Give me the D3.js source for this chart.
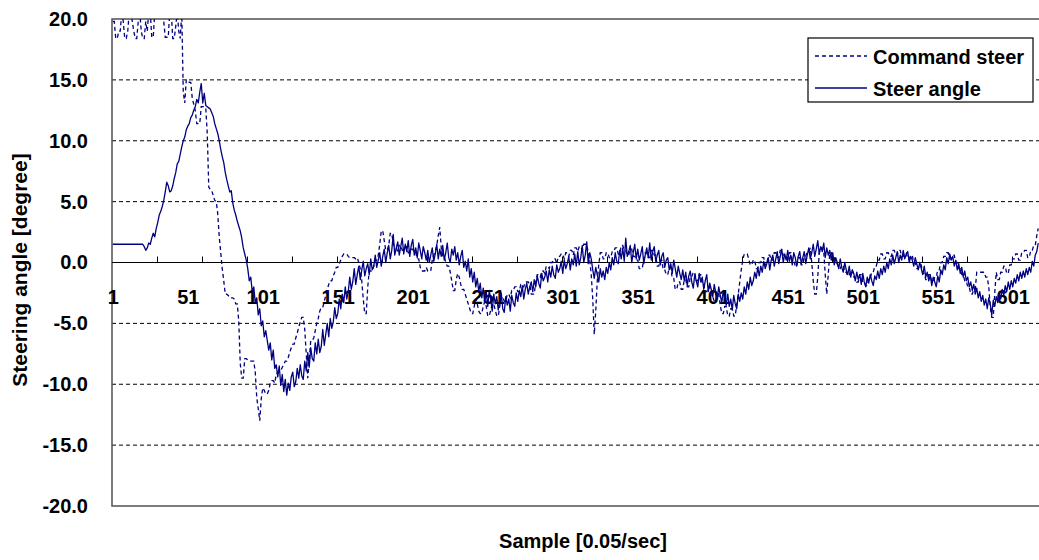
<!DOCTYPE html>
<html>
<head>
<meta charset="utf-8">
<script src="https://cdn.jsdelivr.net/npm/d3@7"></script>
<style>
  html, body { margin: 0; padding: 0; background: #ffffff; }
  svg { display: block; }
  text { font-family: "Liberation Sans", Arial, sans-serif; font-weight: bold; fill: #000; }
</style>
</head>
<body>
<svg id="chart" width="1039" height="560"></svg>
<script>
// Commanded steering angle [degree], one value per sample (0.05 s)
const commandSteer = [
  19.8,19.8,18.4,18.4,19.0,19.0,20.6,19.8,18.4,18.4,
  19.0,20.6,20.6,19.8,19.0,18.4,18.4,19.8,20.6,19.0,
  18.4,18.4,19.8,19.0,20.6,20.6,18.5,18.5,20.6,20.6,
  20.6,20.6,20.6,20.6,19.8,18.5,18.5,18.5,20.6,20.6,
  18.4,18.4,19.4,20.6,19.0,18.4,20.6,14.0,13.1,15.0,
  15.0,14.8,14.8,13.5,13.0,12.5,11.4,11.4,11.4,12.8,
  12.8,12.8,12.7,10.6,6.2,6.0,5.9,5.5,5.1,5.0,
  4.0,2.1,0.8,-0.5,-1.5,-2.6,-2.6,-2.7,-2.9,-2.9,
  -2.9,-3.0,-3.4,-3.4,-4.8,-8.3,-9.5,-9.5,-7.9,-7.9,
  -8.0,-8.1,-8.1,-8.1,-8.1,-9.0,-11.1,-12.0,-13.0,-11.2,
  -10.3,-10.5,-10.8,-10.8,-10.5,-9.9,-9.7,-9.7,-9.9,-9.2,
  -9.0,-8.9,-8.9,-8.6,-8.4,-8.1,-8.1,-7.8,-7.4,-7.0,
  -6.7,-6.7,-6.2,-5.8,-5.3,-4.9,-4.5,-4.5,-5.5,-7.5,
  -9.5,-8.0,-6.4,-6.4,-6.2,-5.6,-5.0,-4.6,-4.0,-3.7,
  -3.7,-3.2,-2.7,-2.2,-1.8,-1.5,-1.5,-1.1,-0.8,-0.4,
  -0.4,-0.1,0.2,0.5,0.7,0.7,0.7,0.5,0.4,0.4,
  0.4,0.4,0.3,0.4,0.0,-0.5,-1.5,-3.0,-4.2,-4.2,
  -2.0,-0.7,-0.7,-0.7,-0.3,0.2,0.2,0.6,1.5,2.6,
  2.6,1.8,1.0,1.0,1.4,2.4,2.4,1.6,1.2,1.2,
  0.9,1.4,1.4,1.0,1.0,1.3,1.3,0.8,0.8,1.1,
  1.1,0.8,0.8,0.3,0.3,-0.4,-0.7,-0.7,-0.7,-0.4,
  -0.7,-0.7,-0.7,0.2,0.6,0.9,1.4,2.2,2.9,1.2,
  0.5,0.5,0.0,-0.3,-0.3,-0.8,-1.5,-2.3,-2.3,-1.4,
  -0.9,-1.2,-1.8,-2.2,-2.2,-2.6,-3.0,-3.4,-3.8,-4.2,
  -4.2,-3.6,-3.0,-3.4,-4.0,-4.2,-4.2,-3.6,-3.2,-3.6,
  -4.4,-4.4,-3.9,-3.4,-3.4,-3.9,-4.4,-4.4,-3.6,-3.0,
  -2.8,-3.2,-3.2,-2.6,-2.6,-2.9,-2.3,-2.3,-2.0,-2.0,
  -2.4,-2.4,-1.8,-1.8,-2.0,-1.6,-1.6,-1.6,-1.8,-2.6,
  -2.6,-2.6,-1.6,-1.0,-1.0,-1.2,-0.7,-0.7,-0.9,-0.3,
  -0.3,-0.5,0.0,0.0,0.3,0.3,-0.1,0.5,0.5,0.7,
  0.7,0.3,0.8,0.8,0.5,1.0,1.0,0.6,1.2,1.2,
  0.9,1.3,1.3,1.0,1.5,1.5,1.5,0.8,0.2,-1.0,
  -3.0,-5.9,-4.0,-1.5,-0.2,0.8,0.8,0.3,0.3,0.8,
  0.8,0.4,0.4,0.9,0.9,1.2,1.2,0.7,0.7,1.4,
  1.4,1.0,1.0,0.6,0.6,1.1,1.1,0.5,0.5,0.2,
  0.2,-0.5,-0.5,-0.5,0.3,0.8,0.8,0.4,0.4,1.0,
  1.0,0.6,0.6,-0.3,-0.3,0.2,0.2,-0.6,-0.6,-1.0,
  -1.0,-0.4,-0.4,-1.3,-1.3,-2.2,-2.2,-1.6,-1.6,-2.2,
  -2.2,-1.4,-1.4,-2.0,-2.0,-1.2,-1.2,-0.8,-0.8,-1.5,
  -1.5,-1.0,-1.0,-1.8,-1.8,-2.4,-2.4,-2.0,-2.0,-2.8,
  -2.8,-3.2,-3.2,-2.6,-2.6,-3.5,-4.2,-4.2,-3.6,-3.6,
  -4.4,-4.4,-3.8,-3.8,-4.4,-4.4,-3.4,-2.6,-1.6,-0.6,
  0.2,0.7,0.7,0.7,0.3,-0.2,-0.2,0.2,0.2,-0.5,
  -0.5,0.0,0.0,0.4,0.4,-0.2,-0.2,0.6,0.6,0.2,
  0.2,0.8,0.8,0.4,0.4,1.0,1.0,0.6,0.6,0.3,
  0.3,0.8,0.8,0.2,0.2,-0.3,-0.3,0.4,0.4,-0.2,
  -0.2,0.5,0.5,0.9,0.9,1.2,0.0,-1.5,-2.6,-2.6,
  -1.2,0.8,1.2,1.2,0.9,-1.0,-2.6,-1.0,0.8,0.8,
  0.4,0.4,-0.1,-0.1,-0.5,-0.5,-0.2,-0.2,-0.8,-0.8,
  -1.1,-1.1,-0.6,-0.6,-1.2,-1.2,-1.6,-1.6,-1.0,-1.0,
  -1.6,-1.6,-1.9,-1.9,-1.3,-1.3,-0.8,-0.8,-0.3,-0.3,
  0.2,0.2,0.7,0.7,0.3,0.3,0.8,0.8,0.5,0.5,
  1.0,1.0,0.6,0.6,1.0,1.0,0.5,0.5,0.8,0.8,
  0.3,0.3,0.6,0.6,0.0,0.0,-0.5,-0.5,-0.2,-0.2,
  -0.9,-0.9,-1.4,-1.4,-1.0,-1.0,-1.6,-1.6,-1.2,-1.2,
  -0.6,-0.6,0.0,0.0,0.5,0.5,0.8,0.8,0.3,0.3,
  0.6,0.6,0.0,0.0,-0.5,-0.5,-1.0,-1.0,-1.5,-1.5,
  -2.0,-2.0,-2.6,-2.6,-2.2,-2.2,-0.8,-0.8,-0.8,-0.8,
  -0.8,-0.8,-1.2,-1.2,-2.0,-3.6,-4.5,-4.5,-2.5,-0.8,
  -1.4,-1.4,-0.8,-0.8,-0.3,-0.3,-0.9,-0.9,-0.2,-0.2,
  0.3,0.3,0.7,0.7,0.2,0.2,0.8,0.8,1.0,1.0,
  0.4,0.4,1.0,1.0,1.4,1.4,2.2,2.8
];

// Measured steering angle [degree], one value per sample (0.05 s)
const steerAngle = [
  1.5,1.5,1.5,1.5,1.5,1.5,1.5,1.5,1.5,1.5,
  1.5,1.5,1.5,1.5,1.5,1.5,1.5,1.5,1.5,1.5,
  1.5,1.3,1.0,1.2,1.6,1.5,2.0,2.4,2.1,2.8,
  3.3,3.9,4.2,4.6,5.1,5.8,6.6,6.3,5.8,5.9,
  6.3,6.9,7.4,8.1,8.3,8.9,9.5,10.0,10.3,10.9,
  11.2,11.4,11.9,12.1,12.5,12.8,13.4,13.1,14.0,14.7,
  13.1,13.9,12.9,12.8,12.7,12.6,12.3,12.0,11.4,11.0,
  10.6,10.0,9.3,8.7,8.2,7.4,6.8,6.3,5.8,5.9,
  4.9,4.3,3.9,3.4,3.0,2.6,2.0,1.2,0.7,0.2,
  -0.5,-1.5,-1.2,-2.4,-2.0,-3.3,-2.9,-4.3,-3.8,-5.2,
  -4.8,-6.1,-5.6,-6.4,-7.2,-6.6,-8.0,-7.2,-8.7,-8.4,
  -9.4,-8.5,-10.1,-9.2,-10.6,-9.6,-10.9,-9.9,-10.5,-9.4,
  -9.0,-10.2,-9.8,-8.7,-9.5,-8.4,-9.3,-9.6,-8.1,-8.9,
  -7.4,-8.6,-7.0,-7.9,-8.1,-6.6,-7.5,-6.3,-7.4,-6.9,
  -5.5,-6.8,-5.9,-5.0,-6.1,-4.6,-5.4,-4.9,-3.7,-4.6,
  -4.2,-3.0,-3.8,-2.6,-3.3,-2.0,-3.0,-2.4,-1.2,-2.2,
  -1.6,-0.5,-1.8,-1.0,-0.3,-1.4,-0.6,0.1,-1.1,-0.5,
  -0.1,-1.0,0.3,-0.6,-0.3,0.6,-0.4,0.2,0.8,-0.3,
  0.5,1.1,0.0,0.8,1.4,0.3,1.0,2.3,0.6,1.2,
  1.7,0.6,1.3,2.0,0.7,1.5,0.9,1.8,0.5,1.4,
  1.9,0.6,1.2,0.4,1.6,1.0,0.3,1.3,0.8,0.2,
  1.0,0.0,0.6,1.2,0.1,0.7,1.5,0.3,1.1,0.5,
  1.4,0.2,0.8,1.6,0.4,0.0,1.1,0.6,1.3,0.2,
  0.8,-0.2,0.5,1.0,-0.4,0.1,-0.7,0.3,-1.2,-0.5,
  -1.6,-0.8,-2.0,-1.3,-2.4,-1.7,-2.9,-2.1,-3.3,-2.4,
  -3.6,-2.3,-3.0,-4.0,-2.6,-3.4,-2.8,-3.9,-3.1,-2.5,
  -3.8,-4.1,-2.8,-3.5,-3.0,-4.0,-2.7,-3.3,-3.6,-2.5,
  -3.2,-2.3,-2.8,-1.9,-3.0,-2.2,-1.7,-2.6,-2.0,-1.6,
  -2.4,-1.4,-2.0,-1.1,-1.7,-2.1,-0.9,-1.5,-1.2,-0.7,
  -1.6,-0.6,-1.2,-0.3,-1.0,-1.3,-0.2,-0.8,-0.5,0.1,
  -0.9,0.2,-0.5,-0.1,0.5,-0.6,0.3,-0.2,0.7,-0.3,
  0.9,-0.2,0.4,1.4,0.0,0.6,1.7,-0.1,0.8,0.3,
  -0.6,-1.3,-0.4,-1.0,-1.6,-0.5,-1.2,-0.7,-1.4,-0.4,
  -0.9,0.0,-0.6,0.4,-0.2,0.8,0.1,-0.1,1.0,0.3,
  1.2,0.1,2.0,0.5,0.9,1.4,0.0,0.8,1.5,0.3,
  1.1,0.2,0.7,1.3,-0.1,0.6,1.2,0.4,1.6,0.2,
  0.9,1.3,0.1,0.6,1.0,-0.2,0.5,0.8,-0.4,0.2,
  0.4,-0.6,-0.1,-0.9,0.2,-0.5,-1.2,-0.3,-0.9,-1.4,
  -0.6,-1.5,-0.8,-1.9,-1.1,-0.7,-1.6,-2.1,-1.0,-1.5,
  -2.0,-0.9,-1.6,-1.2,-2.2,-1.5,-1.0,-2.4,-1.7,-2.2,
  -2.8,-1.8,-2.5,-3.0,-2.0,-2.7,-3.3,-2.3,-2.9,-3.5,
  -2.6,-3.6,-3.0,-3.9,-2.7,-3.4,-3.8,-2.6,-3.2,-2.5,
  -3.0,-2.0,-2.6,-1.6,-2.2,-1.2,-1.9,-1.5,-0.8,-1.3,
  -0.4,-1.1,-0.3,-0.8,0.1,-0.5,-0.1,0.4,-0.6,0.2,
  0.6,-0.3,0.3,0.9,-0.1,0.5,1.1,0.0,0.7,0.2,
  1.0,0.1,0.6,-0.2,0.8,0.4,-0.3,0.5,0.9,-0.1,
  0.4,0.9,-0.1,0.6,1.2,0.3,0.8,1.5,0.5,1.1,
  1.8,0.7,1.3,0.9,1.6,0.4,1.2,0.6,1.0,0.2,
  0.8,-0.2,0.4,0.0,-0.5,0.3,-0.4,-0.8,0.0,-0.6,
  -1.0,-0.3,-1.2,-0.6,-0.9,-1.5,-0.8,-1.4,-1.0,-1.8,
  -0.9,-1.6,-2.0,-1.2,-1.7,-1.0,-1.5,-1.9,-1.1,-1.4,
  -0.7,-1.3,-0.5,-1.0,-0.3,-0.8,0.0,-0.5,0.3,-0.2,
  0.6,-0.1,0.4,0.9,0.0,0.6,0.2,1.0,0.3,0.7,
  0.9,0.0,0.5,0.2,-0.3,0.4,-0.1,-0.6,0.0,-0.5,
  -1.0,-0.3,-1.2,-0.8,-1.5,-1.0,-1.9,-1.2,-1.6,-2.0,
  -1.1,-1.6,-0.6,-1.0,-0.2,-0.6,0.4,-0.1,0.7,0.2,
  0.5,-0.3,0.2,-0.6,-0.1,-0.9,-0.4,-1.2,-0.7,-1.5,
  -1.2,-2.0,-1.6,-2.3,-1.8,-2.6,-2.1,-2.9,-2.4,-3.2,
  -2.7,-3.5,-3.0,-3.8,-2.9,-3.4,-4.3,-3.1,-3.6,-2.8,
  -3.3,-2.5,-3.0,-2.2,-2.7,-1.9,-2.4,-1.6,-2.2,-1.5,
  -2.0,-1.3,-1.7,-1.0,-1.5,-0.8,-1.3,-0.7,-1.2,-0.5,
  -1.0,-0.4,-0.8,0.1,-0.3,0.6,0.9,1.6
];

const seriesNames = ["Command steer", "Steer angle"];
const yTickValues = [-20, -15, -10, -5, 0, 5, 10, 15, 20];
const xLabelSamples = [1, 51, 101, 151, 201, 251, 301, 351, 401, 451, 501, 551, 601];
const xTickSamples = [30, 60, 90, 120, 150, 180, 210, 240, 270, 300, 330, 360, 390, 420, 450, 480, 510, 540, 570, 600];
const xTitle = "Sample [0.05/sec]";
const yTitle = "Steering angle [degree]";

const svg = d3.select("#chart");
const plot = { left: 112, top: 19, right: 1042, bottom: 506 };
const lineColor = "#000080";

// category axis: 620 slots, each sample centred in its slot
const x = d3.scaleLinear().domain([0.5, 620.5]).range([plot.left, plot.right]);
const y = d3.scaleLinear().domain([-20, 20]).range([plot.bottom, plot.top]);

svg.append("defs").append("clipPath").attr("id", "plotClip")
  .append("rect")
  .attr("x", plot.left).attr("y", plot.top)
  .attr("width", plot.right - plot.left).attr("height", plot.bottom - plot.top);

// dashed horizontal gridlines
svg.append("g").selectAll("line")
  .data(yTickValues.filter(v => v !== 0 && Math.abs(v) !== 20))
  .join("line")
  .attr("x1", plot.left).attr("x2", plot.right)
  .attr("y1", d => y(d)).attr("y2", d => y(d))
  .attr("stroke", "#000").attr("stroke-width", 1)
  .attr("stroke-dasharray", "4,3");

// plot area frame
svg.append("rect")
  .attr("x", plot.left).attr("y", plot.top)
  .attr("width", plot.right - plot.left).attr("height", plot.bottom - plot.top)
  .attr("fill", "none").attr("stroke", "#505050").attr("stroke-width", 1.5);

// y axis labels
const yAxis = d3.axisLeft(y).tickValues(yTickValues)
  .tickFormat(d => d.toFixed(1)).tickSize(0).tickPadding(24);
const gy = svg.append("g").attr("transform", `translate(${plot.left},0)`).call(yAxis);
gy.select(".domain").remove();
gy.selectAll("text").style("font-size", "20px").style("font-family", null).attr("fill", "#000");

// x axis labels, hanging below the zero line
const xAxis = d3.axisBottom(x).tickValues(xLabelSamples)
  .tickFormat(d3.format("d")).tickSize(0).tickPadding(27);
const gx = svg.append("g").attr("transform", `translate(0,${y(0)})`).call(xAxis);
gx.select(".domain").remove();
gx.selectAll("text").style("font-size", "20px").style("font-family", null).attr("fill", "#000");

// zero line with small tick marks at category boundaries
const xTicks = d3.axisBottom(x).tickValues(xTickSamples.map(s => s + 0.5))
  .tickFormat("").tickSize(-6).tickSizeOuter(0);
const gt = svg.append("g").attr("transform", `translate(0,${y(0)})`).call(xTicks);
gt.select(".domain").attr("d", `M${plot.left},0H${plot.right}`).attr("stroke", "#000").attr("stroke-width", 1.2);
gt.selectAll(".tick line").attr("stroke", "#000");

// series lines
const line = d3.line().x((d, i) => x(i + 1)).y(d => y(d));
const lines = svg.append("g").attr("clip-path", "url(#plotClip)");
lines.append("path").datum(commandSteer)
  .attr("d", line).attr("fill", "none")
  .attr("stroke", lineColor).attr("stroke-width", 1.3)
  .attr("stroke-dasharray", "4,3");
lines.append("path").datum(steerAngle)
  .attr("d", line).attr("fill", "none")
  .attr("stroke", lineColor).attr("stroke-width", 1.3)
  .attr("stroke-linejoin", "round");

// legend
const legend = svg.append("g");
legend.append("rect").attr("x", 808).attr("y", 38).attr("width", 225).attr("height", 64)
  .attr("fill", "#fff").attr("stroke", "#000").attr("stroke-width", 1.2);
const rows = legend.selectAll("g.row").data(seriesNames).join("g")
  .attr("class", "row")
  .attr("transform", (d, i) => `translate(0,${56 + i * 32})`);
rows.append("line").attr("x1", 815).attr("x2", 867).attr("y1", 0).attr("y2", 0)
  .attr("stroke", lineColor).attr("stroke-width", (d, i) => i === 0 ? 1.3 : 1.5)
  .attr("stroke-dasharray", (d, i) => i === 0 ? "4,3" : null);
rows.append("text").attr("x", 873).attr("y", 7.5).style("font-size", "20px").text(d => d);

// axis titles
svg.append("text").attr("x", (plot.left + plot.right) / 2 + 6).attr("y", 548)
  .attr("text-anchor", "middle").style("font-size", "20px").text(xTitle);
svg.append("text").attr("transform", "translate(27,270) rotate(-90)")
  .attr("text-anchor", "middle").style("font-size", "21px").text(yTitle);
</script>
</body>
</html>
